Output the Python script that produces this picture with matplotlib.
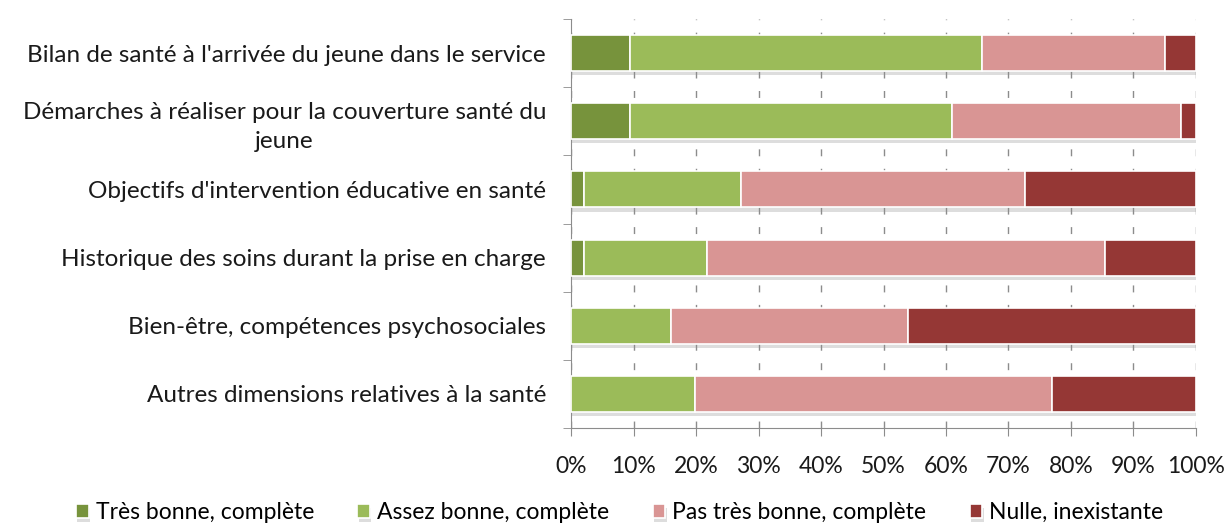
import numpy as np
import matplotlib
matplotlib.use("Agg")
import matplotlib.pyplot as plt
import matplotlib.patheffects as pe
from matplotlib.ticker import FixedLocator, PercentFormatter

# categories, top to bottom
categories = [
    "Bilan de santé à l'arrivée du jeune dans le service",
    "Démarches à réaliser pour la couverture santé du\njeune",
    "Objectifs d'intervention éducative en santé",
    "Historique des soins durant la prise en charge",
    "Bien-être, compétences psychosociales",
    "Autres dimensions relatives à la santé",
]

series_names = [
    "Très bonne, complète",
    "Assez bonne, complète",
    "Pas très bonne, complète",
    "Nulle, inexistante",
]

# percentages per category
tres_bonne = [9.5, 9.5, 2.0, 2.0, 0.0, 0.0]
assez_bonne = [56.3, 51.4, 25.2, 19.8, 16.0, 19.9]
pas_tres_bonne = [29.3, 36.7, 45.4, 63.7, 38.0, 57.0]
nulle = [4.9, 2.4, 27.4, 14.5, 46.0, 23.1]

colors = ["#77933C", "#9BBB59", "#D99594", "#953735"]

plt.rcParams["font.family"] = ["Lato", "DejaVu Sans"]
FS = 16.5

fig = plt.figure(figsize=(12.27, 5.27), dpi=100)
ax = fig.add_axes([0.4654, 0.1879, 0.9747 - 0.4654, 0.9639 - 0.1879])

y = np.arange(len(categories))
left = np.zeros(len(categories))
shadow = [pe.SimplePatchShadow(offset=(1, -3), shadow_rgbFace="#909090", alpha=0.3), pe.Normal()]
handles = []
for name, vals, col in zip(series_names,
                           [tres_bonne, assez_bonne, pas_tres_bonne, nulle],
                           colors):
    vals = np.array(vals)
    bars = ax.barh(y, vals, left=left, height=0.53, color=col,
                   edgecolor="white", linewidth=1.2, label=name, zorder=3)
    for b in bars:
        b.set_path_effects(shadow)
    handles.append(bars)
    left += vals

ax.set_xlim(0, 100)
ax.set_ylim(len(categories) - 0.5, -0.5)

ax.xaxis.set_major_locator(FixedLocator(np.arange(0, 101, 10)))
ax.xaxis.set_major_formatter(PercentFormatter(decimals=0))
ax.grid(axis="x", color="#8c8c8c", linestyle=(0, (5, 9)), linewidth=1.0, zorder=0)
ax.set_axisbelow(True)

ax.set_yticks(y)
ax.set_yticklabels(categories, fontsize=17.5, color="#1a1a1a", multialignment="center",
                   linespacing=1.45)
ax.yaxis.set_minor_locator(FixedLocator(np.arange(-0.5, len(categories), 1)))
ax.tick_params(axis="y", which="major", length=0, pad=18)
ax.tick_params(axis="y", which="minor", length=6, color="#8c8c8c", direction="out")
ax.tick_params(axis="x", which="major", length=6, color="#8c8c8c", direction="out",
               labelsize=FS, labelcolor="#1a1a1a", pad=14)

for side in ["top", "right"]:
    ax.spines[side].set_visible(False)
for side in ["left", "bottom"]:
    ax.spines[side].set_color("#8c8c8c")

fig.legend(handles=handles, labels=series_names, loc="center",
           bbox_to_anchor=(0.505, 0.028), ncol=4, frameon=False,
           fontsize=FS, handlelength=0.55, handleheight=0.55,
           handletextpad=0.3, columnspacing=1.9)

fig.savefig("out.png", dpi=100)
